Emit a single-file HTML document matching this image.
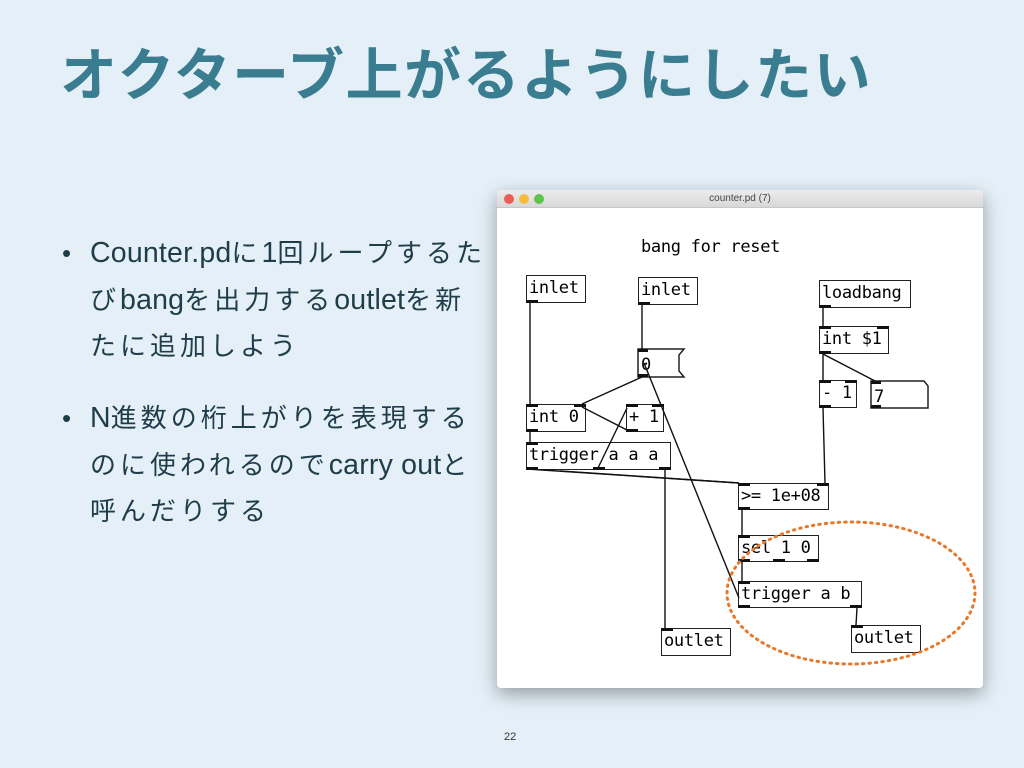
<!DOCTYPE html>
<html><head><meta charset="utf-8"><style>
body{margin:0;width:1024px;height:768px;background:#e4eff7;position:relative;overflow:hidden;font-family:"Liberation Sans","Noto Sans CJK JP",sans-serif}
.t{position:absolute;left:60px;top:30px;font-size:57px;font-weight:bold;color:#3b7d90;letter-spacing:1.5px;white-space:nowrap}
.b{position:absolute;left:62px;font-size:26px;color:#1f3d48;line-height:46.5px;width:460px;white-space:nowrap;letter-spacing:4px}
.b span{position:absolute;left:0}
.b i{font-style:normal;font-size:28.5px;letter-spacing:0.2px}
.b div{margin-left:28px}
.win{position:absolute;left:497px;top:190px;width:486px;height:498px;background:#fff;box-shadow:0 6px 18px rgba(0,0,0,.35);border-radius:4px;overflow:hidden}
.bar{height:17px;background:linear-gradient(#ececec,#d8d8d8);border-bottom:1px solid #c8c8c8;font-size:10px;color:#444;text-align:center;line-height:17px}
.dot{position:absolute;top:4px;width:10px;height:10px;border-radius:50%}
.o{position:absolute;border:1.5px solid #222;background:#fff;font-family:"DejaVu Sans Mono","Liberation Mono",monospace;font-size:17px;line-height:25px;padding-left:2px;box-sizing:border-box;white-space:nowrap;color:#000;letter-spacing:-0.3px}
svg{position:absolute;left:0;top:0}
</style></head><body>
<div class="t">オクターブ上がるようにしたい</div>
<div class="b" style="top:230px"><span>•</span><div><i>Counter.pd</i>に<i>1</i>回ループするた<br>び<i>bang</i>を出力する<i>outlet</i>を新<br>たに追加しよう</div></div>
<div class="b" style="top:395px"><span>•</span><div><i>N</i>進数の桁上がりを表現する<br>のに使われるので<i>carry out</i>と<br>呼んだりする</div></div>
<div style="position:absolute;left:504px;top:731px;font-size:11px;color:#333">22</div>
<div class="win"><div class="bar">counter.pd (7)</div>
<div class="dot" style="left:7px;background:#ee5d55"></div><div class="dot" style="left:22px;background:#f5bd3b"></div><div class="dot" style="left:37px;background:#5ec54a"></div>
<div style="position:absolute;left:144px;top:47px;font-family:'DejaVu Sans Mono',monospace;font-size:17px;letter-spacing:-0.3px;color:#000">bang for reset</div>
</div>
<div class="o" style="left:526px;top:275px;width:60px;height:28px">inlet</div>
<div class="o" style="left:638px;top:277px;width:60px;height:28px">inlet</div>
<div class="o" style="left:819px;top:280px;width:92px;height:28px">loadbang</div>
<div class="o" style="left:819px;top:326px;width:70px;height:28px">int $1</div>
<div class="o" style="left:819px;top:380px;width:38px;height:28px">- 1</div>
<div class="o" style="left:526px;top:404px;width:60px;height:28px">int 0</div>
<div class="o" style="left:626px;top:404px;width:38px;height:28px">+ 1</div>
<div class="o" style="left:526px;top:442px;width:145px;height:28px">trigger a a a</div>
<div class="o" style="left:738px;top:483px;width:91px;height:27px">&gt;= 1e+08</div>
<div class="o" style="left:738px;top:535px;width:81px;height:27px">sel 1 0</div>
<div class="o" style="left:738px;top:581px;width:124px;height:27px">trigger a b</div>
<div class="o" style="left:661px;top:628px;width:70px;height:28px">outlet</div>
<div class="o" style="left:851px;top:625px;width:70px;height:28px">outlet</div>
<svg width="1024" height="768">
<g fill="#fff" stroke="#222" stroke-width="1.5">
<path d="M638,349 H684 L679,355 V371 L684,377 H638Z"/>
<path d="M871,381 H924 L928,386 V408 H871Z"/>
</g>
<g font-family="DejaVu Sans Mono,monospace" font-size="17" fill="#000"><text x="641" y="370">0</text><text x="874" y="402">7</text></g>
<g stroke="#111" stroke-width="1.4" fill="none">
<line x1="530" y1="303" x2="530" y2="404"/>
<line x1="642" y1="305" x2="642" y2="349"/>
<line x1="642" y1="377" x2="582" y2="404"/>
<line x1="644" y1="363" x2="739" y2="598"/>
<line x1="530" y1="432" x2="530" y2="442"/>
<line x1="582" y1="407" x2="627" y2="430"/>
<line x1="627" y1="408" x2="597" y2="470"/>
<line x1="527" y1="469" x2="739" y2="483"/>
<line x1="560" y1="471" x2="739" y2="483"/>
<line x1="665" y1="470" x2="665" y2="628"/>
<line x1="823" y1="308" x2="823" y2="326"/>
<line x1="823" y1="354" x2="823" y2="380"/>
<line x1="823" y1="354" x2="875" y2="381"/>
<line x1="823" y1="408" x2="825" y2="483"/>
<line x1="742" y1="510" x2="742" y2="535"/>
<line x1="742" y1="562" x2="742" y2="581"/>
<line x1="857" y1="608" x2="856" y2="625"/>
</g>
<g fill="#111">
<rect x="526" y="300" width="12" height="3"/><rect x="638" y="302" width="12" height="3"/>
<rect x="819" y="305" width="12" height="3"/><rect x="819" y="326" width="12" height="3"/><rect x="877" y="326" width="12" height="3"/><rect x="819" y="351" width="12" height="3"/>
<rect x="819" y="380" width="12" height="3"/><rect x="845" y="380" width="12" height="3"/><rect x="819" y="405" width="12" height="3"/>
<rect x="871" y="381" width="10" height="3"/><rect x="871" y="405" width="10" height="3"/>
<rect x="638" y="349" width="10" height="3"/><rect x="638" y="374" width="10" height="3"/>
<rect x="526" y="404" width="12" height="3"/><rect x="574" y="404" width="12" height="3"/><rect x="526" y="429" width="12" height="3"/>
<rect x="626" y="404" width="12" height="3"/><rect x="652" y="404" width="12" height="3"/><rect x="626" y="429" width="12" height="3"/>
<rect x="526" y="442" width="12" height="3"/><rect x="526" y="467" width="12" height="3"/><rect x="593" y="467" width="12" height="3"/><rect x="659" y="467" width="12" height="3"/>
<rect x="738" y="483" width="12" height="3"/><rect x="817" y="483" width="12" height="3"/><rect x="738" y="507" width="12" height="3"/>
<rect x="738" y="535" width="12" height="3"/><rect x="773" y="559" width="12" height="3"/><rect x="807" y="559" width="12" height="3"/><rect x="738" y="559" width="12" height="3"/>
<rect x="738" y="581" width="12" height="3"/><rect x="738" y="605" width="12" height="3"/><rect x="850" y="605" width="12" height="3"/>
<rect x="661" y="628" width="12" height="3"/><rect x="851" y="625" width="12" height="3"/>
</g>
<ellipse cx="851" cy="593" rx="124" ry="71" fill="none" stroke="#e8782a" stroke-width="3" stroke-dasharray="1.5 5" stroke-linecap="round"/>
</svg>
</body></html>
